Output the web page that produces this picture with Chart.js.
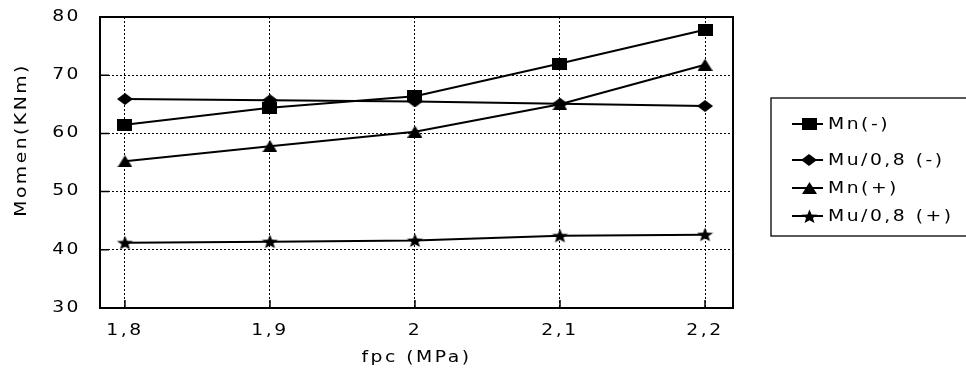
<!DOCTYPE html>
<html>
<head>
<meta charset="utf-8">
<script src="https://cdn.jsdelivr.net/npm/chart.js@4.4.1/dist/chart.umd.min.js"></script>
<style>
  html, body { margin: 0; padding: 0; background: #fff; overflow: hidden; }
  canvas { display: block; }
</style>
</head>
<body>
<canvas id="chart" width="966" height="371"></canvas>
<script>
// fpc (MPa) values along the x axis and their printed labels
const fpc = [1.8, 1.9, 2.0, 2.1, 2.2];
const fpcLabels = ['1,8', '1,9', '2', '2,1', '2,2'];

// Moment capacities (KNm)
const mnNeg = [61.5, 64.4, 66.4, 72.0, 77.8];   // Mn(-)
const muNeg = [65.9, 65.7, 65.5, 65.1, 64.7];   // Mu/0,8 (-)
const mnPos = [55.2, 57.8, 60.3, 65.0, 71.8];   // Mn(+)
const muPos = [41.2, 41.4, 41.6, 42.4, 42.6];   // Mu/0,8 (+)

const seriesNames = ['Mn(-)', 'Mu/0,8 (-)', 'Mn(+)', 'Mu/0,8 (+)'];
const yTicks = [30, 40, 50, 60, 70, 80];

const FONT = 'DejaVu Sans';
const SPACING = '2px';
const TEXT_STRETCH = 1.25;   // wide, horizontally stretched lettering

const canvas = document.getElementById('chart');
const ctx2d = canvas.getContext('2d');

// Every label is drawn with fillText; widen the glyphs about their anchor point
const nativeFillText = CanvasRenderingContext2D.prototype.fillText;
ctx2d.fillText = function (text, x, y, maxWidth) {
  this.save();
  this.translate(x, y);
  this.scale(TEXT_STRETCH, 1);
  if (maxWidth !== undefined) nativeFillText.call(this, text, 0, 0, maxWidth / TEXT_STRETCH);
  else nativeFillText.call(this, text, 0, 0);
  this.restore();
};

// Filled black marker shapes, drawn once on small canvases
function marker(w, h, draw) {
  const c = document.createElement('canvas');
  c.width = w; c.height = h;
  const g = c.getContext('2d');
  g.fillStyle = '#000';
  g.beginPath();
  draw(g, w, h);
  g.fill();
  return c;
}
const squareMk = marker(15, 12, (g, w, h) => g.rect(0, 0, w, h));
const diamondMk = marker(16, 12, (g, w, h) => {
  g.moveTo(w / 2, 0); g.lineTo(w, h / 2); g.lineTo(w / 2, h); g.lineTo(0, h / 2); g.closePath();
});
const triangleMk = marker(15, 12, (g, w, h) => {
  g.moveTo(w / 2, 0); g.lineTo(w, h); g.lineTo(0, h); g.closePath();
});
const starMk = marker(17, 15, (g, w, h) => {
  const cx = w / 2, cy = h / 2 + 0.5, rx = w / 2, ry = h / 2;
  for (let i = 0; i < 10; i++) {
    const a = -Math.PI / 2 + i * Math.PI / 5;
    const k = i % 2 === 0 ? 1 : 0.42;
    const px = cx + Math.cos(a) * rx * k, py = cy + Math.sin(a) * ry * k;
    if (i === 0) g.moveTo(px, py); else g.lineTo(px, py);
  }
  g.closePath();
});
const markers = [squareMk, diamondMk, triangleMk, starMk];

function series(label, values, style) {
  return {
    label,
    data: fpc.map((x, i) => ({ x, y: values[i] })),
    borderColor: '#000',
    backgroundColor: '#000',
    borderWidth: 2,
    pointStyle: style,
    pointRadius: 8,
    tension: 0,
    fill: false
  };
}

// Letter spacing for every text drawn on the canvas
const spacingPlugin = {
  id: 'spacing',
  beforeUpdate(chart) { chart.ctx.letterSpacing = SPACING; },
  beforeDraw(chart) { chart.ctx.letterSpacing = SPACING; }
};

// Solid frame round the plot area, with short inside tick marks on the left and bottom
const framePlugin = {
  id: 'frame',
  beforeDatasetsDraw(chart) {
    const { ctx, chartArea: a, scales } = chart;
    ctx.save();
    ctx.strokeStyle = '#000';
    ctx.lineWidth = 2;
    ctx.strokeRect(a.left, a.top, a.right - a.left, a.bottom - a.top);
    ctx.lineWidth = 1.5;
    ctx.beginPath();
    yTicks.forEach(v => {
      const y = scales.y.getPixelForValue(v);
      ctx.moveTo(a.left, y); ctx.lineTo(a.left + 9, y);
    });
    fpc.forEach(v => {
      const x = scales.x.getPixelForValue(v);
      ctx.moveTo(x, a.bottom); ctx.lineTo(x, a.bottom - 8);
    });
    ctx.stroke();
    ctx.restore();
  }
};

// Vertical y-axis title and boxed legend with line + marker samples
const annotatePlugin = {
  id: 'annotate',
  afterDraw(chart) {
    const ctx = chart.ctx;
    ctx.save();
    ctx.letterSpacing = SPACING;
    ctx.fillStyle = '#000';
    ctx.font = '15px "' + FONT + '"';

    // y-axis title
    ctx.save();
    ctx.translate(22, 140);
    ctx.rotate(-Math.PI / 2);
    ctx.textAlign = 'center';
    ctx.textBaseline = 'middle';
    ctx.fillText('Momen(KNm)', 0, 0);
    ctx.restore();

    // legend box (runs off the right edge)
    const boxL = 771, boxT = 98, boxB = 236;
    ctx.strokeStyle = '#000';
    ctx.lineWidth = 1.3;
    ctx.strokeRect(boxL, boxT, 966 - boxL + 10, boxB - boxT);

    const rows = [124, 160, 188, 216];
    chart.data.datasets.forEach((ds, i) => {
      const y = rows[i];
      ctx.lineWidth = 2;
      ctx.beginPath();
      ctx.moveTo(792, y);
      ctx.lineTo(823, y);
      ctx.stroke();
      const m = markers[i];
      ctx.drawImage(m, Math.round(809 - m.width / 2), Math.round(y - m.height / 2));
      ctx.textAlign = 'left';
      ctx.textBaseline = 'middle';
      ctx.fillText(ds.label, 828, y + 1);
    });
    ctx.restore();
  }
};

new Chart(canvas, {
  type: 'line',
  data: {
    datasets: [
      series(seriesNames[0], mnNeg, squareMk),
      series(seriesNames[1], muNeg, diamondMk),
      series(seriesNames[2], mnPos, triangleMk),
      series(seriesNames[3], muPos, starMk)
    ]
  },
  options: {
    responsive: false,
    animation: false,
    events: [],
    layout: { padding: { left: 0, top: 17, right: 233, bottom: 0 } },
    plugins: {
      legend: { display: false },
      tooltip: { enabled: false }
    },
    scales: {
      x: {
        type: 'linear',
        min: 1.7828,
        max: 2.2193,
        afterBuildTicks: s => { s.ticks = fpc.map(v => ({ value: v })); },
        afterFit: s => { s.height = 63; },
        ticks: {
          callback: v => {
            const i = fpc.findIndex(f => Math.abs(f - v) < 1e-6);
            return i >= 0 ? fpcLabels[i] : '';
          },
          autoSkip: false,
          maxRotation: 0,
          color: '#000',
          padding: 14,
          font: { family: FONT, size: 15 }
        },
        grid: { color: '#000', lineWidth: 1, drawTicks: false },
        border: { display: false, dash: [2, 2] },
        title: {
          display: true,
          text: 'fpc (MPa)',
          color: '#000',
          font: { family: FONT, size: 15 },
          padding: { top: 0, bottom: 4 }
        }
      },
      y: {
        min: 30,
        max: 80,
        afterBuildTicks: s => { s.ticks = yTicks.map(v => ({ value: v })); },
        afterFit: s => { s.width = 100; s.paddingTop = 0; s.paddingBottom = 0; },
        ticks: {
          color: '#000',
          padding: 19,
          font: { family: FONT, size: 15 }
        },
        grid: { color: '#000', lineWidth: 1, drawTicks: false },
        border: { display: false, dash: [2, 2] }
      }
    }
  },
  plugins: [spacingPlugin, framePlugin, annotatePlugin]
});
</script>
</body>
</html>
